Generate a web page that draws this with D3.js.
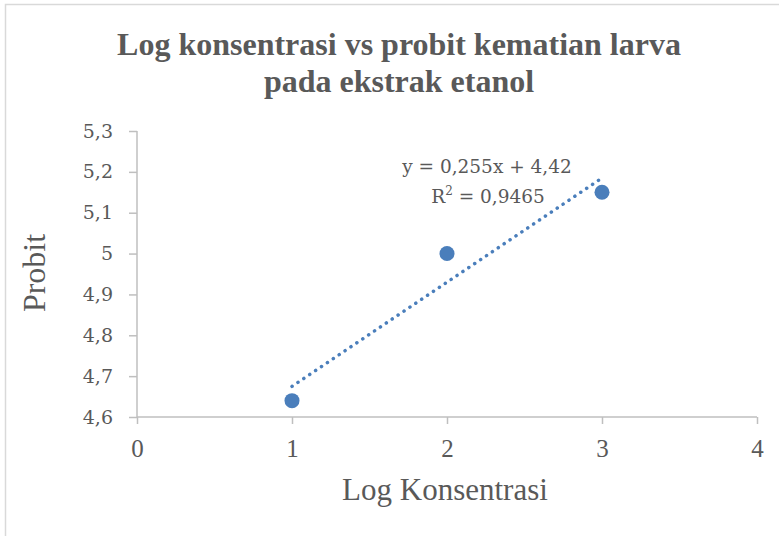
<!DOCTYPE html>
<html>
<head>
<meta charset="utf-8">
<script src="https://cdn.jsdelivr.net/npm/d3@7"></script>
<style>
  body { margin: 0; background: #fff; }
  svg { display: block; }
</style>
</head>
<body>
<div id="chart"></div>
<script>
// data
const logKonsentrasi = [1, 2, 3];
const probit = [4.64, 5.0, 5.15];
const xTicks = [0, 1, 2, 3, 4];
const yTicks = [4.6, 4.7, 4.8, 4.9, 5.0, 5.1, 5.2, 5.3];
const titleLines = ["Log konsentrasi vs probit kematian larva", "pada ekstrak etanol"];

const width = 779, height = 536;
const margin = {left: 137, right: 22, top: 131, bottom: 119};

const svg = d3.select("#chart").append("svg")
    .attr("width", width)
    .attr("height", height);

// chart frame (only left and top edges visible in the picture)
svg.append("path")
    .attr("d", `M5.5,${height} V4.5 H${width}`)
    .attr("fill", "none")
    .attr("stroke", "#d9d9d9")
    .attr("stroke-width", 1.5);

const x = d3.scaleLinear().domain([0, 4]).range([margin.left, width - margin.right]);
const y = d3.scaleLinear().domain([4.6, 5.3]).range([height - margin.bottom, margin.top]);

const fmt = d => d3.format(".1f")(d).replace(/\.0$/, "").replace(".", ",");

// y axis
const yAxis = svg.append("g")
    .attr("transform", `translate(${margin.left},0)`)
    .call(d3.axisLeft(y).tickValues(yTicks).tickSize(8).tickPadding(16).tickFormat(fmt));
yAxis.selectAll("line, path").attr("stroke", "#bfbfbf").attr("stroke-width", 1.5);
yAxis.select(".domain").attr("d", `M0,${y(5.3)}V${y(4.6)}`);
yAxis.selectAll("text")
    .attr("fill", "#595959")
    .style("font-family", "'DejaVu Serif', serif")
    .style("font-size", "19px");

// x axis
const xAxis = svg.append("g")
    .attr("transform", `translate(0,${y(4.6)})`)
    .call(d3.axisBottom(x).tickValues(xTicks).tickSize(7).tickPadding(15).tickFormat(d3.format("d")));
xAxis.selectAll("line, path").attr("stroke", "#bfbfbf").attr("stroke-width", 1.5);
xAxis.select(".domain").attr("d", `M${x(0)},0H${x(4)}`);
xAxis.selectAll("text")
    .attr("fill", "#595959")
    .style("font-family", "'Liberation Serif', serif")
    .style("font-size", "25px");

// linear trendline (least squares)
const mx = d3.mean(logKonsentrasi), my = d3.mean(probit);
const slope = d3.sum(logKonsentrasi, (v, i) => (v - mx) * (probit[i] - my)) /
              d3.sum(logKonsentrasi, v => (v - mx) ** 2);
const intercept = my - slope * mx;
const ssTot = d3.sum(probit, v => (v - my) ** 2);
const ssRes = d3.sum(logKonsentrasi, (v, i) => (probit[i] - (slope * v + intercept)) ** 2);
const r2 = 1 - ssRes / ssTot;

const xr = d3.extent(logKonsentrasi);
svg.append("line")
    .attr("x1", x(xr[0])).attr("y1", y(slope * xr[0] + intercept))
    .attr("x2", x(xr[1])).attr("y2", y(slope * xr[1] + intercept))
    .attr("stroke", "#4a7ebb")
    .attr("stroke-width", 3.5)
    .attr("stroke-linecap", "round")
    .attr("stroke-dasharray", "0.1 7");

// points
svg.append("g").selectAll("circle")
    .data(logKonsentrasi)
    .join("circle")
    .attr("cx", d => x(d))
    .attr("cy", (d, i) => y(probit[i]))
    .attr("r", 7.5)
    .attr("fill", "#4a7ebb");

// trendline label
const comma = v => String(v).replace(".", ",");
const eq = svg.append("text")
    .attr("text-anchor", "middle")
    .attr("fill", "#595959")
    .style("font-family", "'DejaVu Serif', serif")
    .style("font-size", "18.5px");
eq.append("tspan").attr("x", 487).attr("y", 173)
    .text(`y = ${comma(+slope.toFixed(3))}x + ${comma(+intercept.toFixed(2))}`);
const r2line = eq.append("tspan").attr("x", 488).attr("y", 203).text("R");
r2line.append("tspan").attr("dy", -8).style("font-size", "12px").text("2");
eq.append("tspan").attr("dy", 8).text(` = ${comma(+r2.toFixed(4))}`);

// title
svg.append("text")
    .attr("text-anchor", "middle")
    .attr("fill", "#595959")
    .style("font-family", "'Liberation Serif', serif")
    .style("font-weight", "bold")
    .style("font-size", "32px")
    .selectAll("tspan")
    .data(titleLines)
    .join("tspan")
    .attr("x", 399)
    .attr("y", (d, i) => 55 + i * 37)
    .text(d => d);

// axis titles
svg.append("text")
    .attr("text-anchor", "middle")
    .attr("x", x(2) - 2)
    .attr("y", 500)
    .attr("fill", "#595959")
    .style("font-family", "'Liberation Serif', serif")
    .style("font-size", "31px")
    .text("Log Konsentrasi");

svg.append("text")
    .attr("text-anchor", "middle")
    .attr("transform", `translate(45,${y(4.95) - 1}) rotate(-90)`)
    .attr("fill", "#595959")
    .style("font-family", "'Liberation Serif', serif")
    .style("font-size", "32px")
    .text("Probit");
</script>
</body>
</html>
